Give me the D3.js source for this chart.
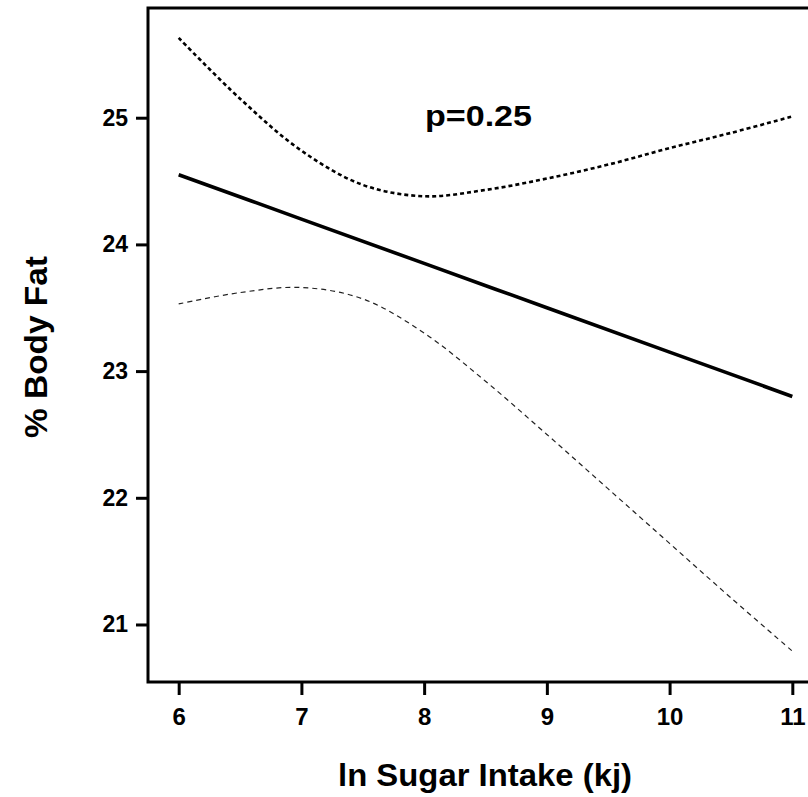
<!DOCTYPE html>
<html>
<head>
<meta charset="utf-8">
<script src="https://cdn.jsdelivr.net/npm/d3@7"></script>
<style>
  html, body { margin: 0; padding: 0; background: #fff; overflow: hidden; }
  svg { display: block; }
  text { font-family: "Liberation Sans", Arial, Helvetica, sans-serif; font-weight: bold; fill: #000; }
</style>
</head>
<body>
<svg id="chart" width="808" height="797"></svg>
<script>
// ---- data ----
const xTicks = [6, 7, 8, 9, 10, 11];
const yTicks = [21, 22, 23, 24, 25];

const fitX = [6, 7, 8, 9, 10, 11];
const fitY = [24.55, 24.20, 23.85, 23.50, 23.15, 22.80];

const upperX = [6, 6.5, 7, 7.5, 8, 8.5, 9, 9.5, 10, 10.5, 11];
const upperY = [25.63, 25.15, 24.74, 24.47, 24.38, 24.43, 24.52, 24.63, 24.76, 24.88, 25.01];

const lowerX = [6, 6.5, 7, 7.5, 8, 8.5, 9, 9.5, 10, 10.5, 11];
const lowerY = [23.53, 23.62, 23.66, 23.57, 23.30, 22.92, 22.50, 22.07, 21.64, 21.21, 20.79];

const pLabel = "p=0.25";
const xTitle = "ln Sugar Intake (kj)";
const yTitle = "% Body Fat";

// ---- layout ----
const svg = d3.select("#chart");
const plot = { left: 148, right: 823, top: 8, bottom: 682 };

const x = d3.scaleLinear().domain([5.75, 11.25]).range([plot.left, plot.right]);
const y = d3.scaleLinear().domain([20.546, 25.866]).range([plot.bottom, plot.top]);

const zip = (a, b) => a.map((v, i) => [v, b[i]]);
const line = d3.line().x(d => x(d[0])).y(d => y(d[1])).curve(d3.curveCatmullRom.alpha(0.5));

// frame
svg.append("rect")
  .attr("x", plot.left).attr("y", plot.top)
  .attr("width", plot.right - plot.left).attr("height", plot.bottom - plot.top)
  .attr("fill", "none").attr("stroke", "#000").attr("stroke-width", 3);

// x axis
const xAxis = d3.axisBottom(x).tickValues(xTicks).tickSize(13).tickPadding(13).tickFormat(d3.format("d"));
const gx = svg.append("g").attr("transform", `translate(0,${plot.bottom})`).call(xAxis);
gx.select(".domain").remove();
gx.selectAll(".tick line").attr("stroke", "#000").attr("stroke-width", 3);
gx.selectAll(".tick text").style("font-size", "24px").attr("fill", "#000");

// y axis
const yAxis = d3.axisLeft(y).tickValues(yTicks).tickSize(12).tickPadding(8).tickFormat(d3.format("d"));
const gy = svg.append("g").attr("transform", `translate(${plot.left},0)`).call(yAxis);
gy.select(".domain").remove();
gy.selectAll(".tick line").attr("stroke", "#000").attr("stroke-width", 3);
gy.selectAll(".tick text").style("font-size", "23px").attr("fill", "#000");

// curves
svg.append("path").datum(zip(lowerX, lowerY))
  .attr("d", line).attr("fill", "none")
  .attr("stroke", "#222").attr("stroke-width", 1.2).attr("stroke-dasharray", "5,4");

svg.append("path").datum(zip(upperX, upperY))
  .attr("d", line).attr("fill", "none")
  .attr("stroke", "#000").attr("stroke-width", 2.6).attr("stroke-dasharray", "4,3");

svg.append("path").datum(zip(fitX, fitY))
  .attr("d", line).attr("fill", "none")
  .attr("stroke", "#000").attr("stroke-width", 3.6);

// annotation
svg.append("text").attr("x", 425).attr("y", 126)
  .attr("textLength", 107).attr("lengthAdjust", "spacingAndGlyphs")
  .style("font-size", "30px").text(pLabel);

// axis titles
svg.append("text").attr("x", 485).attr("y", 786)
  .attr("text-anchor", "middle")
  .attr("textLength", 294).attr("lengthAdjust", "spacingAndGlyphs")
  .style("font-size", "31px").text(xTitle);

svg.append("text")
  .attr("transform", `translate(47,347) rotate(-90)`)
  .attr("text-anchor", "middle")
  .attr("textLength", 182).attr("lengthAdjust", "spacingAndGlyphs")
  .style("font-size", "32px").text(yTitle);
</script>
</body>
</html>
